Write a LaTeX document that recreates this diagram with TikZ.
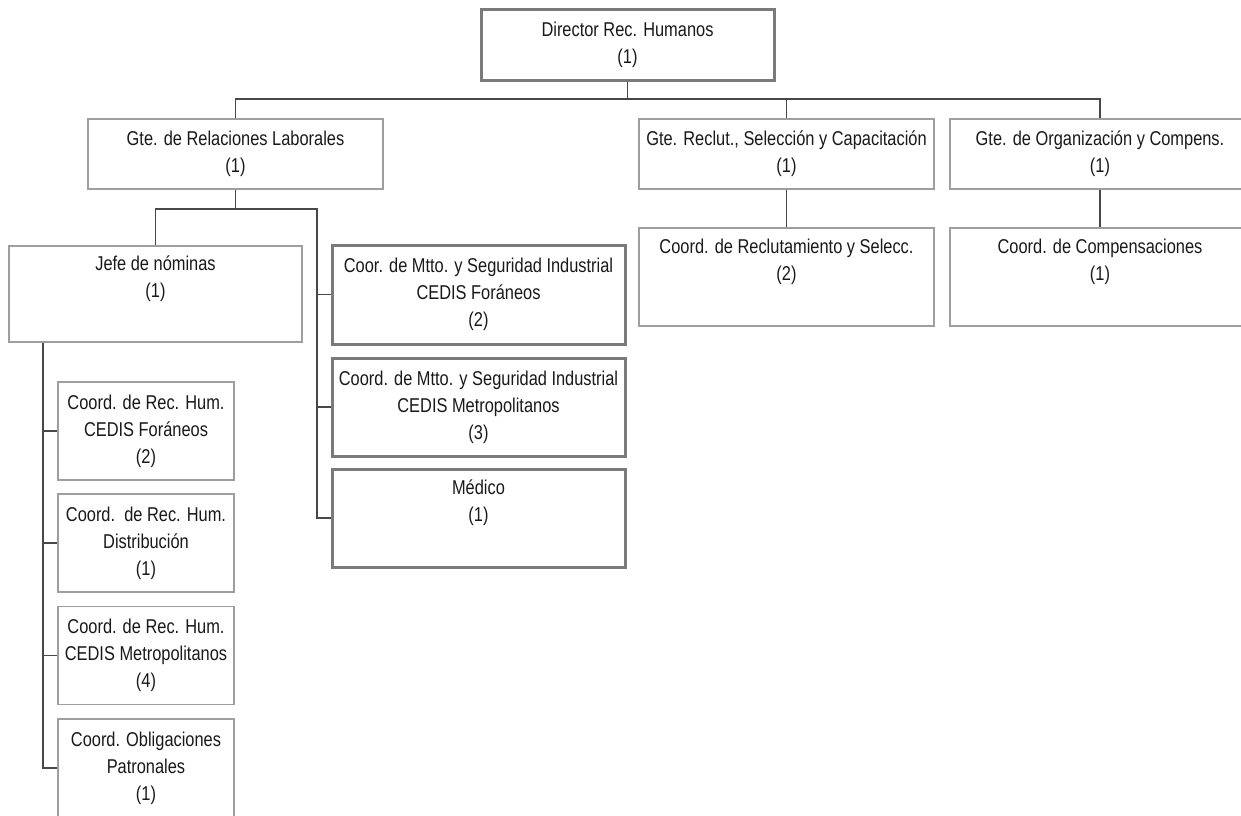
\documentclass[tikz,border=0pt]{standalone}
\usepackage{fontspec}
\setmainfont{Liberation Sans}[FakeStretch=0.82]
\begin{document}
\begin{tikzpicture}[x=1pt,y=-1pt,
  box/.style={draw=black!38,line width=1.2pt,rectangle,inner sep=0pt,align=center,
    font=\fontsize{20}{27}\selectfont,text=black!90},
  heavy/.style={box,draw=black!52,line width=3pt},
  link/.style={draw=black!72,line width=1.2pt}]
\useasboundingbox (0,0) rectangle (1241,815);
\clip (0,0) rectangle (1241,815);

% top level
\node[heavy,minimum width=293pt,minimum height=71pt] (dir) at (627.5,44.5)
  {Director Rec. Humanos\\(1)};

% managers
\node[box,minimum width=295pt,minimum height=70pt] (grl) at (235.5,154)
  {Gte. de Relaciones Laborales\\(1)};
\node[box,minimum width=295pt,minimum height=70pt] (grc) at (786.5,154)
  {Gte. Reclut., Selección y Capacitación\\(1)};
\node[box,minimum width=300pt,minimum height=70pt] (goc) at (1100,154)
  {Gte. de Organización y Compens.\\(1)};

% under the managers on the right
\node[box,minimum width=295pt,minimum height=98pt] (crs) at (786.5,277)
  {Coord. de Reclutamiento y Selecc.\\(2)\\\strut};
\node[box,minimum width=300pt,minimum height=98pt] (ccp) at (1100,277)
  {Coord. de Compensaciones\\(1)\\\strut};

% labour relations branch
\node[box,minimum width=293pt,minimum height=96pt] (jn) at (155.5,294)
  {Jefe de nóminas\\(1)\\\strut};
\node[heavy,minimum width=293pt,minimum height=99pt] (mf) at (478.5,294.5)
  {Coor. de Mtto. y Seguridad Industrial\\CEDIS Foráneos\\(2)};
\node[heavy,minimum width=293pt,minimum height=98pt] (mm) at (478.5,407)
  {Coord. de Mtto. y Seguridad Industrial\\CEDIS Metropolitanos\\(3)};
\node[heavy,minimum width=293pt,minimum height=98pt] (med) at (478.5,518)
  {Médico\\(1)\\\strut};

% payroll branch
\node[box,minimum width=176pt,minimum height=98pt] (rf) at (146,431)
  {Coord. de Rec. Hum.\\CEDIS Foráneos\\(2)};
\node[box,minimum width=176pt,minimum height=98pt] (rd) at (146,543)
  {Coord.~~de Rec. Hum.\\Distribución\\(1)};
\node[box,minimum width=176pt,minimum height=98pt] (rm) at (146,655.5)
  {Coord. de Rec. Hum.\\CEDIS Metropolitanos\\(4)};
\node[box,minimum width=176pt,minimum height=98pt] (op) at (146,768)
  {Coord. Obligaciones\\Patronales\\(1)};

% connectors
\coordinate (bus) at (0,99);
\draw[link] (dir.south) -- (dir.south |- bus);
\draw[link] (grl.north) |- (goc.north |- bus) -- (goc.north);
\draw[link] (grc.north) -- (grc.north |- bus);

\coordinate (sub) at (0,209);
\coordinate (rail) at (317,0);
\draw[link] (grl.south) -- (grl.south |- sub);
\draw[link] (jn.north) |- (rail |- sub) |- (med.west);
\draw[link] (rail |- mf.west) -- (mf.west);
\draw[link] (rail |- mm.west) -- (mm.west);

\coordinate (pay) at (43,0);
\draw[link] (pay |- jn.south) |- (op.west);
\draw[link] (pay |- rf.west) -- (rf.west);
\draw[link] (pay |- rd.west) -- (rd.west);
\draw[link] (pay |- rm.west) -- (rm.west);

\draw[link] (grc.south) -- (crs.north);
\draw[link] (goc.south) -- (ccp.north);
\end{tikzpicture}
\end{document}
